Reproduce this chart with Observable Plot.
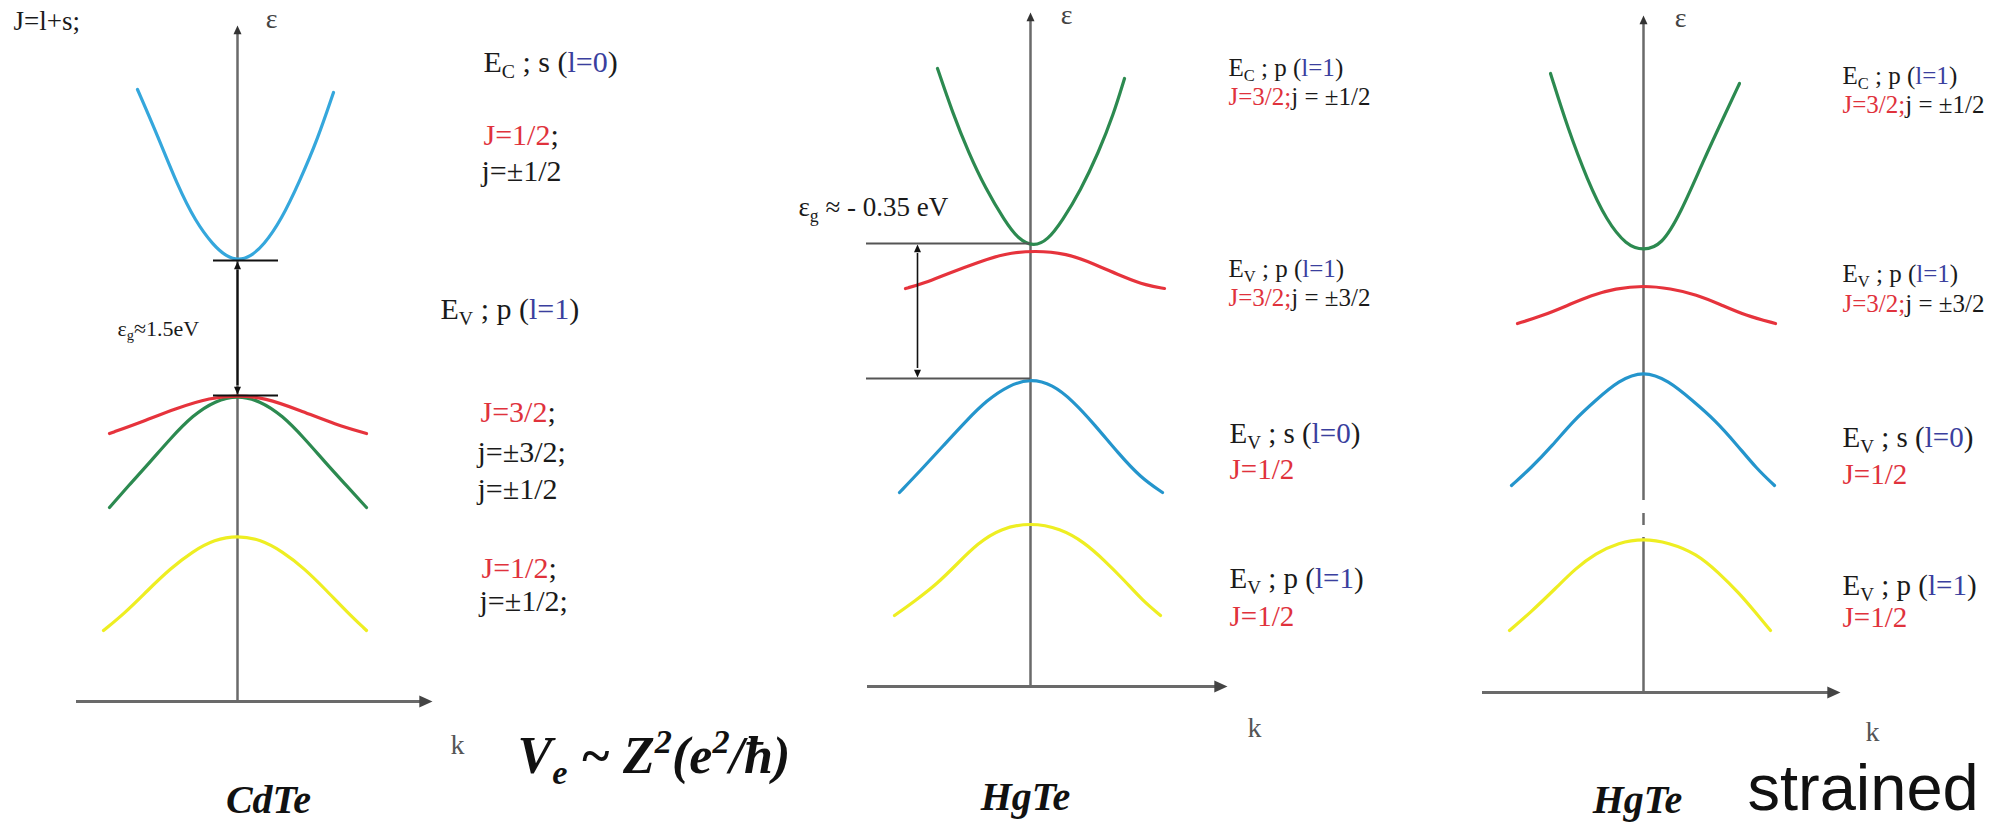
<!DOCTYPE html>
<html><head><meta charset="utf-8">
<script src="https://cdn.jsdelivr.net/npm/d3@7"></script>
<script src="https://cdn.jsdelivr.net/npm/@observablehq/plot@0.6"></script>
<style>
html,body{margin:0;padding:0;background:#fff;}
#chart{position:relative;width:2010px;height:827px;overflow:hidden;background:#fff;}
#chart svg{position:absolute;left:0;top:0;}
</style></head><body><div id="chart"></div>
<script>
// ---------- DATA: band curves as [k, ε] pairs ----------
// CdTe
const cdteBlue = [[-1.00,6.12],[-0.80,5.66],[-0.60,5.16],[-0.42,4.80],[-0.24,4.56],[-0.11,4.45],[0.01,4.41],[0.13,4.45],[0.26,4.56],[0.44,4.82],[0.62,5.20],[0.80,5.62],[0.96,6.09]];
const cdteRed = [[-1.28,2.68],[-0.97,2.79],[-0.62,2.93],[-0.27,3.04],[0,3.06],[0.27,3.04],[0.63,2.91],[0.98,2.77],[1.29,2.68]];
const cdteGreen = [[-1.28,1.94],[-1.07,2.18],[-0.87,2.40],[-0.67,2.63],[-0.45,2.86],[-0.22,3.01],[0,3.06],[0.22,3.01],[0.45,2.86],[0.67,2.63],[0.87,2.40],[1.07,2.18],[1.29,1.94]];
const cdteYellow = [[-1.34,0.71],[-1.12,0.89],[-0.90,1.11],[-0.67,1.33],[-0.45,1.50],[-0.23,1.62],[0,1.66],[0.23,1.62],[0.45,1.50],[0.67,1.33],[0.89,1.11],[1.10,0.89],[1.29,0.71]];
// HgTe
const hgteGreen = [[-0.93,6.18],[-0.78,5.74],[-0.62,5.34],[-0.45,4.98],[-0.26,4.66],[-0.12,4.47],[0.03,4.40],[0.17,4.46],[0.32,4.66],[0.50,4.96],[0.68,5.34],[0.83,5.72],[0.94,6.08]];
const hgteRed = [[-1.25,3.98],[-1.07,4.03],[-0.80,4.14],[-0.53,4.24],[-0.26,4.33],[0.05,4.36],[0.36,4.33],[0.63,4.23],[0.94,4.09],[1.16,4.01],[1.34,3.98]];
const hgteBlue = [[-1.31,1.94],[-1.10,2.16],[-0.87,2.41],[-0.64,2.66],[-0.44,2.86],[-0.22,3.01],[0,3.08],[0.22,3.02],[0.42,2.86],[0.64,2.62],[0.88,2.33],[1.10,2.09],[1.32,1.94]];
const hgteYellow = [[-1.36,0.71],[-1.15,0.86],[-0.93,1.03],[-0.73,1.23],[-0.53,1.43],[-0.30,1.58],[0,1.64],[0.30,1.58],[0.54,1.44],[0.74,1.26],[0.94,1.06],[1.12,0.86],[1.30,0.71]];
// strained HgTe
const strGreen = [[-0.93,6.19],[-0.76,5.65],[-0.56,5.12],[-0.37,4.72],[-0.17,4.47],[0,4.42],[0.18,4.47],[0.37,4.79],[0.60,5.32],[0.80,5.75],[0.96,6.09]];
const strRed = [[-1.26,3.69],[-1.03,3.76],[-0.76,3.87],[-0.53,3.97],[-0.28,4.04],[0,4.07],[0.27,4.04],[0.53,3.98],[0.77,3.88],[1.02,3.77],[1.32,3.69]];
const strBlue = [[-1.32,2.07],[-1.13,2.24],[-0.91,2.47],[-0.70,2.72],[-0.48,2.92],[-0.25,3.12],[0,3.22],[0.25,3.12],[0.49,2.92],[0.72,2.72],[0.94,2.47],[1.13,2.24],[1.31,2.07]];
const strYellow = [[-1.34,0.62],[-1.13,0.80],[-0.87,1.05],[-0.68,1.24],[-0.48,1.39],[-0.25,1.50],[0,1.54],[0.25,1.50],[0.53,1.39],[0.75,1.20],[0.96,0.99],[1.12,0.80],[1.27,0.62]];

// ---------- DATA: labels (markup: _{sub} ^{sup} [r:red] [b:blue]) ----------
const cdteLabels = ["E_{C} ; s ([b:l=0])", "[r:J=1/2];", "j=±1/2", "E_{V} ; p ([b:l=1])", "[r:J=3/2];", "j=±3/2;", "j=±1/2", "[r:J=1/2];", "j=±1/2;"];
const cdteLabelEps = [6.39, 5.66, 5.30, 3.92, 2.89, 2.49, 2.12, 1.33, 1.00];
const cdteLabelK = [2.46, 2.46, 2.44, 2.03, 2.43, 2.40, 2.40, 2.44, 2.42];
const hgteUpperLabels = ["E_{C} ; p ([b:l=1])", "[r:J=3/2;]j = ±1/2", "E_{V} ; p ([b:l=1])", "[r:J=3/2;]j = ±3/2"];
const hgteLowerLabels = ["E_{V} ; s ([b:l=0])", "[r:J=1/2]", "E_{V} ; p ([b:l=1])", "[r:J=1/2]"];
const hgteUpperEps = [6.19, 5.90, 4.18, 3.89];
const hgteLowerEps = [2.53, 2.17, 1.08, 0.70];
const strUpperEps = [6.17, 5.88, 4.19, 3.89];
const strLowerEps = [2.55, 2.18, 1.07, 0.75];
const titles = ["CdTe", "HgTe", "HgTe"];
const topNote = "J=l+s;";
const formula = "V_{e} ~ Z^{2}(e^{2}/ħ)";
const cdteGapLabel = "ε_{g}≈1.5eV";
const hgteGapLabel = "ε_{g} ≈ - 0.35 eV";
const strainedLabel = "strained";

// ---------- styling ----------
const W = 2010, H = 827;
const RED = "#e0323c", BLUE_TXT = "#3a3f9e";
const SERIF = "Liberation Serif, Times New Roman, serif";
const SANS = "Liberation Sans, Arial, sans-serif";
const AXIS = "#6a6a6a";
const C = {blue1: "#35a7dc", blue2: "#2495cc", green: "#2c8a50", red: "#e6333c", yellow: "#eeee22"};

const arrowSym = (dir) => ({draw(ctx, size) {
  const r = Math.sqrt(size / Math.PI), L = 2.2 * r, w = r;
  ctx.moveTo(0, 0);
  if (dir === "up") { ctx.lineTo(-w, L); ctx.lineTo(w, L); }
  else if (dir === "down") { ctx.lineTo(-w, -L); ctx.lineTo(w, -L); }
  else { ctx.lineTo(-L, -w); ctx.lineTo(-L, w); }
  ctx.closePath();
}});

const band = (data, color) => Plot.line(data, {x: d => d[0], y: d => d[1], stroke: color, strokeWidth: 3.2, curve: "basis"});
const head = (k, e, dir, r, fill) => Plot.dot([[k, e]], {x: d => d[0], y: d => d[1], symbol: arrowSym(dir), r, fill, stroke: "none"});
const txt = (data, o) => Plot.text(data, {textAnchor: "start", lineAnchor: "middle", fontFamily: SERIF, fill: "#1a1a1a", ...o});

function makePanel(x0, yA, marks) {
  return Plot.plot({
    width: W, height: H,
    x: {axis: null, domain: [-1, 1], range: [x0 - 100, x0 + 100]},
    y: {axis: null, domain: [0, 1], range: [yA, yA - 100]},
    style: {background: "transparent", overflow: "visible"},
    marks
  });
}

// ---------- Panel 1: CdTe ----------
const cdteCB = d3.min(cdteBlue, d => d[1]), cdteVB = d3.max(cdteRed, d => d[1]);
const p1 = makePanel(237, 701, [
  Plot.ruleX([0], {y1: 0, y2: 6.70, stroke: AXIS, strokeWidth: 2.5}),
  Plot.ruleY([0], {x1: -1.61, x2: 1.85, stroke: AXIS, strokeWidth: 3}),
  head(0, 6.76, "up", 4, "#333"),
  head(1.95, 0, "right", 6, "#444"),
  band(cdteBlue, C.blue1), band(cdteGreen, C.green), band(cdteRed, C.red), band(cdteYellow, C.yellow),
  Plot.ruleY([cdteCB, cdteVB], {x1: -0.24, x2: 0.41, stroke: "#111", strokeWidth: 2.2}),
  Plot.ruleX([0], {y1: cdteVB + 0.1, y2: cdteCB - 0.1, stroke: "#111", strokeWidth: 2}),
  head(0, cdteCB - 0.01, "up", 3.5, "#111"),
  head(0, cdteVB + 0.01, "down", 3.5, "#111"),
  txt([cdteGapLabel], {x: () => -1.20, y: () => 3.73, text: d => d, fontSize: 22}),
  txt([topNote], {x: () => -2.24, y: () => 6.80, text: d => d, fontSize: 27}),
  txt(["ε"], {x: () => 0.34, y: () => 6.82, text: d => d, fontSize: 28, textAnchor: "middle", fill: "#444"}),
  txt(cdteLabels, {x: (d, i) => cdteLabelK[i], y: (d, i) => cdteLabelEps[i], text: d => d, fontSize: 30}),
  txt(["k"], {x: () => 2.13, y: () => -0.44, text: d => d, fontSize: 28, fill: "#555"}),
  txt([titles[0]], {x: () => 0.31, y: () => -0.99, text: d => d, fontSize: 40, fontStyle: "italic", fontWeight: "bold", textAnchor: "middle", fill: "#111"}),
  txt([formula], {x: () => 2.80, y: () => -0.55, text: d => d, fontSize: 52, fontStyle: "italic", fontWeight: "bold", fill: "#111"})
]);

// ---------- Panel 2: HgTe ----------
const hgTop = d3.min(hgteGreen, d => d[1]), hgBot = d3.max(hgteBlue, d => d[1]);
const p2 = makePanel(1030, 686, [
  Plot.ruleX([0], {y1: 0, y2: 6.66, stroke: AXIS, strokeWidth: 2.5}),
  Plot.ruleY([0], {x1: -1.63, x2: 1.86, stroke: AXIS, strokeWidth: 3}),
  head(0, 6.74, "up", 4, "#333"),
  head(1.97, 0, "right", 6, "#444"),
  band(hgteGreen, C.green), band(hgteRed, C.red), band(hgteBlue, C.blue2), band(hgteYellow, C.yellow),
  Plot.ruleY([hgTop + 0.03, hgBot], {x1: -1.64, x2: 0, stroke: "#555", strokeWidth: 1.8}),
  Plot.ruleX([-1.13], {y1: hgBot + 0.1, y2: hgTop - 0.07, stroke: "#111", strokeWidth: 1.6}),
  head(-1.13, hgTop + 0.02, "up", 3.5, "#111"),
  head(-1.13, hgBot + 0.01, "down", 3.5, "#111"),
  txt([hgteGapLabel], {x: () => -2.32, y: () => 4.79, text: d => d, fontSize: 27}),
  txt(["ε"], {x: () => 0.36, y: () => 6.71, text: d => d, fontSize: 28, textAnchor: "middle", fill: "#444"}),
  txt(hgteUpperLabels, {x: () => 1.98, y: (d, i) => hgteUpperEps[i], text: d => d, fontSize: 25}),
  txt(hgteLowerLabels, {x: () => 1.99, y: (d, i) => hgteLowerEps[i], text: d => d, fontSize: 29}),
  txt(["k"], {x: () => 2.17, y: () => -0.42, text: d => d, fontSize: 28, fill: "#555"}),
  txt([titles[1]], {x: () => -0.05, y: () => -1.11, text: d => d, fontSize: 40, fontStyle: "italic", fontWeight: "bold", textAnchor: "middle", fill: "#111"})
]);

// ---------- Panel 3: strained HgTe ----------
const axisSegments = [[0, 1.55], [1.67, 1.79], [1.92, 6.70]];
const p3 = makePanel(1643, 692, [
  Plot.ruleX(axisSegments, {x: () => 0, y1: d => d[0], y2: d => d[1], stroke: AXIS, strokeWidth: 2.5}),
  Plot.ruleY([0], {x1: -1.61, x2: 1.87, stroke: AXIS, strokeWidth: 3}),
  head(0, 6.77, "up", 4, "#333"),
  head(1.97, 0, "right", 6, "#444"),
  band(strGreen, C.green), band(strRed, C.red), band(strBlue, C.blue2), band(strYellow, C.yellow),
  txt(["ε"], {x: () => 0.37, y: () => 6.74, text: d => d, fontSize: 28, textAnchor: "middle", fill: "#444"}),
  txt(hgteUpperLabels, {x: () => 1.99, y: (d, i) => strUpperEps[i], text: d => d, fontSize: 25}),
  txt(hgteLowerLabels, {x: () => 1.99, y: (d, i) => strLowerEps[i], text: d => d, fontSize: 29}),
  txt(["k"], {x: () => 2.22, y: () => -0.40, text: d => d, fontSize: 28, fill: "#555"}),
  txt([titles[2]], {x: () => -0.06, y: () => -1.08, text: d => d, fontSize: 40, fontStyle: "italic", fontWeight: "bold", textAnchor: "middle", fill: "#111"}),
  txt([strainedLabel], {x: () => 1.04, y: () => -0.97, text: d => d, fontSize: 65, fontFamily: SANS, fill: "#111"})
]);

const chart = document.getElementById("chart");
[p1, p2, p3].forEach(p => chart.appendChild(p));

// ---------- rich text: subscripts, superscripts and coloured runs ----------
const svgNS = "http://www.w3.org/2000/svg";
function renderRich(t) {
  const src = t.textContent;
  if (!/[_^\[]/.test(src)) return;
  const fs = parseFloat(getComputedStyle(t).fontSize) || 20;
  const re = /_\{([^}]*)\}|\^\{([^}]*)\}|\[(r|b):([^\]]*)\]|([^_^\[]+)/g;
  t.textContent = "";
  let shift = 0;
  for (const m of src.matchAll(re)) {
    let str, color = null, target = 0, small = false;
    if (m[1] !== undefined) { str = m[1]; target = 0.2 * fs; small = true; }
    else if (m[2] !== undefined) { str = m[2]; target = -0.38 * fs; small = true; }
    else if (m[3] !== undefined) { str = m[4]; color = m[3] === "r" ? RED : BLUE_TXT; }
    else str = m[5];
    const ts = document.createElementNS(svgNS, "tspan");
    ts.textContent = str;
    if (small) ts.setAttribute("font-size", (0.66 * fs).toFixed(1));
    if (color) ts.setAttribute("fill", color);
    if (target !== shift) { ts.setAttribute("dy", (target - shift).toFixed(1)); shift = target; }
    t.appendChild(ts);
  }
}
chart.querySelectorAll("text").forEach(renderRich);
</script></body></html>
